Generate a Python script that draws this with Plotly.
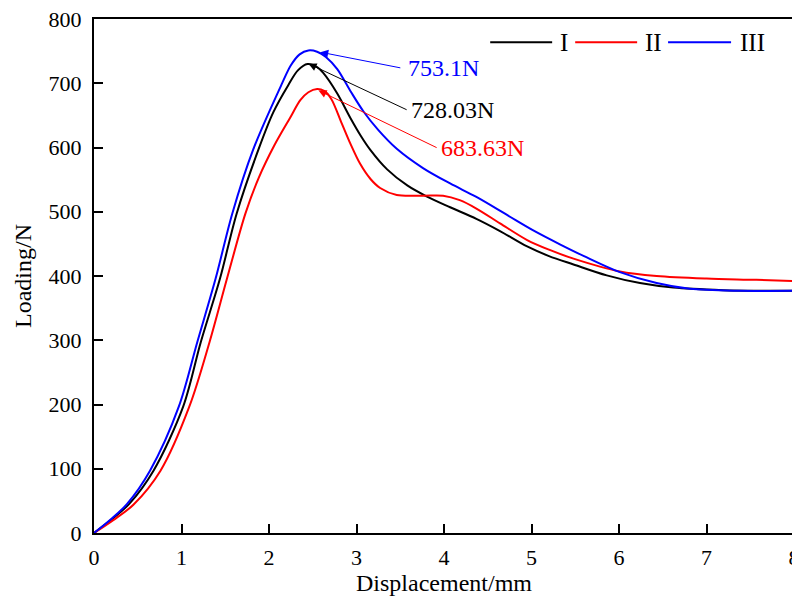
import plotly.graph_objects as go

# Series I (black)
x_I = [0, 0.20, 0.40, 0.68, 1.02, 1.22, 1.44, 1.63, 1.88, 2.05, 2.22, 2.33, 2.44,
       2.55, 2.62, 2.78, 2.93, 3.05, 3.16, 3.35, 3.58, 3.80, 4.07, 4.37, 4.64, 4.95,
       5.20, 5.48, 5.86, 6.24, 6.62, 7.19, 7.60, 8.0]
y_I = [0, 21, 45, 97, 197, 297, 396, 497, 597, 655, 697, 720, 730,
       725, 716, 684, 646, 618, 596, 566, 541, 524, 507, 489, 470, 446,
       431, 418, 401, 389, 382, 378, 377, 377]

# Series II (red)
x_II = [0, 0.22, 0.45, 0.76, 1.09, 1.32, 1.52, 1.73, 1.88, 2.06, 2.24, 2.36, 2.45, 2.55,
        2.63, 2.71, 2.83, 2.93, 3.04, 3.16, 3.27, 3.46, 3.76, 3.99, 4.18, 4.37, 4.64,
        4.95, 5.20, 5.48, 6.01, 6.43, 7.00, 7.57, 8.0]
y_II = [0, 20, 44, 97, 197, 297, 396, 497, 552, 603, 646, 674, 686, 691,
        688, 676, 638, 606, 575, 551, 537, 526, 525, 525, 518, 505, 482,
        456, 441, 427, 407, 400, 396, 394, 392]

# Series III (blue)
x_III = [0, 0.19, 0.376, 0.64, 0.97, 1.18, 1.39, 1.58, 1.82, 2.14, 2.25, 2.35, 2.45, 2.55,
         2.65, 2.78, 2.93, 3.08, 3.25, 3.46, 3.76, 4.07, 4.37, 4.72, 5.02, 5.33, 5.60,
         6.01, 6.43, 6.81, 7.38, 8.0]
y_III = [0, 21, 45, 97, 197, 297, 396, 497, 597, 697, 728, 745, 751, 749,
         741, 722, 688, 656, 627, 598, 568, 544, 523, 495, 471, 449, 431,
         406, 389, 380, 377, 377]

series_names = ["I", "II", "III"]
series_colors = ["#000000", "#ff0000", "#0000ff"]

# Peak annotations
peak_labels = ["728.03N", "683.63N", "753.1N"]
arrow_head_x = [2.452, 2.566, 2.586]
arrow_head_y = [730.4, 688.8, 748.4]
arrow_tail_x = [3.590, 3.933, 3.518]
arrow_tail_y = [657.7, 598.7, 723.5]
label_x = [3.600, 3.945, 3.570]

x_ticks = [0, 1, 2, 3, 4, 5, 6, 7, 8]
y_ticks = [0, 100, 200, 300, 400, 500, 600, 700, 800]

# Legend placement (paper coords)
legend_line_x0 = [0.566, 0.6874, 0.8201]
legend_line_x1 = [0.6545, 0.7759, 0.9101]
legend_text_x = [0.663, 0.7844, 0.9201]
legend_y = 0.955

FONT = "Times New Roman, Liberation Serif, serif"

fig = go.Figure()
for xs, ys, name, col in zip([x_I, x_II, x_III], [y_I, y_II, y_III], series_names, series_colors):
    fig.add_trace(go.Scatter(x=xs, y=ys, mode="lines", name=name,
                             line=dict(color=col, width=2, shape="spline", smoothing=0.9)))

annotations = []
shapes = []
for i in range(3):
    annotations.append(dict(x=arrow_head_x[i], y=arrow_head_y[i], xref="x", yref="y",
                            ax=arrow_tail_x[i], ay=arrow_tail_y[i], axref="x", ayref="y",
                            text="", showarrow=True, arrowhead=2, arrowsize=1.6,
                            arrowwidth=1, arrowcolor=series_colors[i]))
    annotations.append(dict(x=label_x[i], y=arrow_tail_y[i], xref="x", yref="y",
                            text=peak_labels[i], showarrow=False, xanchor="left", yanchor="middle",
                            font=dict(family=FONT, size=24, color=series_colors[i])))
    # manual legend
    shapes.append(dict(type="line", xref="paper", yref="paper",
                       x0=legend_line_x0[i], x1=legend_line_x1[i], y0=legend_y, y1=legend_y,
                       line=dict(color=series_colors[i], width=2)))
    annotations.append(dict(x=legend_text_x[i], y=legend_y, xref="paper", yref="paper",
                            text=series_names[i], showarrow=False, xanchor="left", yanchor="middle",
                            font=dict(family=FONT, size=25, color="black")))

axis_common = dict(showline=True, linewidth=2, linecolor="black", mirror=True,
                   ticks="inside", ticklen=9, tickwidth=2, tickcolor="black",
                   showgrid=False, zeroline=False, ticklabeloverflow="allow",
                   tickfont=dict(family=FONT, size=22, color="black"))

fig.update_layout(
    width=792, height=591,
    margin=dict(l=85.5, r=6, t=10.5, b=66, autoexpand=False),
    paper_bgcolor="white", plot_bgcolor="white",
    showlegend=False,
    xaxis=dict(range=[0, 8], tickvals=x_ticks, ticktext=[str(v) for v in x_ticks],
               ticklabelstandoff=4,
               title=dict(text="Displacement/mm", font=dict(family=FONT, size=24, color="black"),
                          standoff=4),
               **axis_common),
    yaxis=dict(range=[0, 800], tickvals=y_ticks, ticktext=[str(v) for v in y_ticks],
               ticklabelstandoff=6,
               title=dict(text="Loading/N", font=dict(family=FONT, size=24, color="black"),
                          standoff=10),
               **axis_common),
    annotations=annotations,
    shapes=shapes,
)

fig.write_html("out.html")
